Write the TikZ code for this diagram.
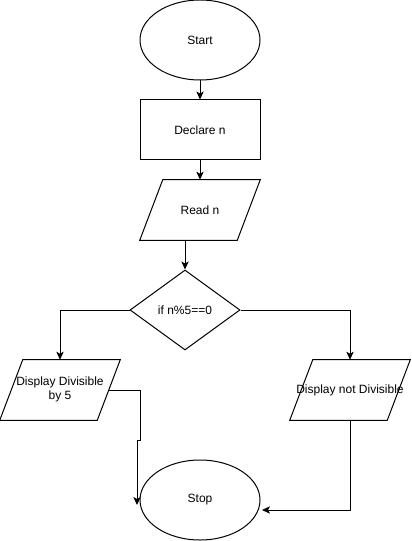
\documentclass[tikz,border=0pt]{standalone}
\usepackage{fontspec}
\setmainfont{Liberation Sans}
\usetikzlibrary{shapes.geometric,arrows.meta}
\begin{document}
\begin{tikzpicture}[x=0.75pt,y=-0.75pt,
  every node/.style={font=\fontsize{9pt}{10.5pt}\selectfont},
  term/.style={ellipse,draw,line width=0.75pt,minimum width=90pt,minimum height=60pt,inner sep=0pt},
  procbox/.style={rectangle,draw,line width=0.75pt,minimum width=90pt,minimum height=45pt,inner sep=0pt},
  iobox/.style={rectangle,minimum width=90pt,minimum height=45pt,inner sep=0pt,
    append after command={\pgfextra{\draw[line width=0.75pt]
      ([xshift=17.25pt]\tikzlastnode.north west) -- (\tikzlastnode.north east)
      -- ([xshift=-17.25pt]\tikzlastnode.south east) -- (\tikzlastnode.south west) -- cycle;}}},
  decision/.style={diamond,draw,line width=0.75pt,minimum width=82.5pt,minimum height=60pt,inner sep=0pt,aspect=1.375},
  conn/.style={draw,line width=0.75pt,-{Stealth[length=6pt,width=5.5pt,inset=1.5pt]}}]
\useasboundingbox (0,0) rectangle (411,541);
\node[term] (start) at (200,40) {Start};
\node[procbox] (decl) at (200,130) {Declare n};
\node[iobox] (read) at (200,210) {Read n};
\node[decision] (cond) at (185,310) {if n\%5==0};
\node[iobox] (div) at (60,390) {\makebox[0pt]{\begin{tabular}{@{}c@{}}Display Divisible\\by 5\end{tabular}}};
\node[iobox] (ndiv) at (350,390) {\makebox[0pt]{Display not Divisible}};
\node[term] (stop) at (200,500) {Stop};
\coordinate (readout) at (185,240);
\coordinate (divout) at (109,390);
\coordinate (stopl) at (137,505);
\coordinate (stopr) at (262,510);
\draw[conn] (start) -- (decl);
\draw[conn] (decl) -- (read);
\draw[conn] (readout) -- (cond.north);
\draw[conn] (cond.west) -| (div.north);
\draw[conn] (cond.east) -| (ndiv.north);
\draw[conn] (divout) -- (140,390) -- (140,440) -- (137,440) -- (stopl);
\draw[conn] (ndiv.south) |- (stopr);
\end{tikzpicture}
\end{document}
